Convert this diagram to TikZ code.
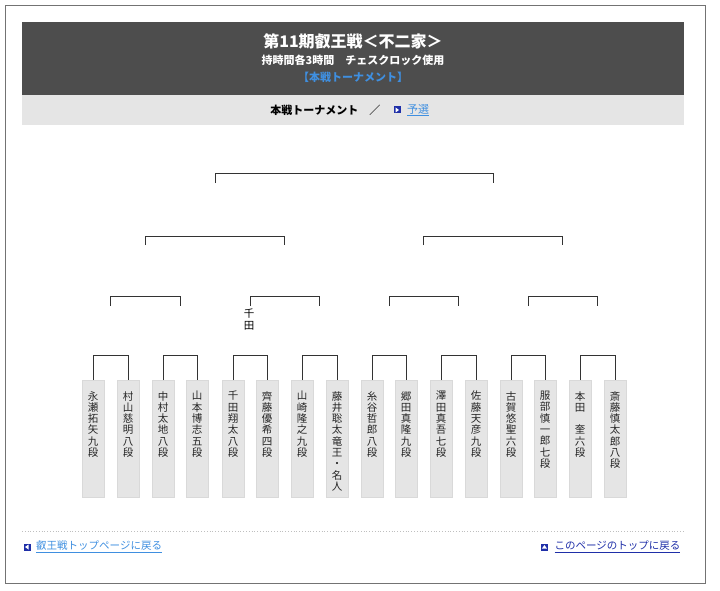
\documentclass[tikz,border=0pt]{standalone}
\usepackage{fontspec}
\setmainfont{Noto Sans CJK JP}
\usetikzlibrary{positioning,calc}
\definecolor{headgray}{HTML}{4D4D4D}
\definecolor{bargray}{HTML}{E5E5E5}
\definecolor{linkblue}{HTML}{3F8FE0}
\definecolor{iconblue}{HTML}{1F2FA8}
\begin{document}
\begin{tikzpicture}[
    x=1pt, y=-1pt,
    namebox/.style={draw=black!15, fill=black!10, minimum width=22pt, minimum height=117pt, anchor=north, inner sep=0pt},
    nametext/.style={anchor=north, font=\fontsize{10.5}{11.3}\selectfont, align=center, inner sep=0pt, text=black!85},
    bracket/.style={draw=black!80, line width=0.8pt},
    icon/.style={fill=iconblue, minimum size=7pt, inner sep=0pt}
]
\useasboundingbox (0,0) rectangle (720,591);
% Frame and header
\draw[black!55] (5,5) rectangle (705,583);
\fill[headgray] (22,22) rectangle (684,95);
\fill[bargray] (22,95) rectangle (684,125);
\node[text=white, font=\fontsize{16}{19}\selectfont\bfseries] (title) at (353,41) {第11期叡王戦＜不二家＞};
\node[text=white, font=\fontsize{11}{13}\selectfont\bfseries] (sub) at (353,60) {持時間各3時間\quad チェスクロック使用};
\node[text=linkblue, font=\fontsize{11}{13}\selectfont\bfseries] (main) at (353,77) {【本戦トーナメント】};
\node[font=\fontsize{11}{13}\selectfont\bfseries, anchor=east] (bar) at (384,110) {本戦トーナメント\quad ／};
\node[icon] (qicon) at (397,110) {};
\fill[white] (395.5,107.5) -- (399,110) -- (395.5,112.5) -- cycle;
\node[text=linkblue, font=\fontsize{11}{13}\selectfont, right=3pt of qicon] (qual) {\underline{予選}};

% Players
\foreach \i/\x/\name in {
    1/93/{永\\瀬\\拓\\矢\\九\\段},
    2/128/{村\\山\\慈\\明\\八\\段},
    3/163/{中\\村\\太\\地\\八\\段},
    4/197/{山\\本\\博\\志\\五\\段},
    5/233/{千\\田\\翔\\太\\八\\段},
    6/267/{齊\\藤\\優\\希\\四\\段},
    7/302/{山\\崎\\隆\\之\\九\\段},
    8/337/{藤\\井\\聡\\太\\竜\\王\\・\\名\\人},
    9/372/{糸\\谷\\哲\\郎\\八\\段},
    10/406/{郷\\田\\真\\隆\\九\\段},
    11/441/{澤\\田\\真\\吾\\七\\段},
    12/476/{佐\\藤\\天\\彦\\九\\段},
    13/511/{古\\賀\\悠\\聖\\六\\段},
    14/545/{服\\部\\慎\\一\\郎\\七\\段},
    15/580/{本\\田\\\\奎\\六\\段},
    16/615/{斎\\藤\\慎\\太\\郎\\八\\段}} {
    \node[namebox] (p\i) at (\x,380) {};
    \node[nametext] (t\i) at ([yshift=-11pt]p\i.north) {\name};
}

% Round 1
\foreach \a/\b/\k in {1/2/1, 3/4/2, 5/6/3, 7/8/4, 9/10/5, 11/12/6, 13/14/7, 15/16/8} {
    \draw[bracket] (p\a.north) -- ++(0,-25) -| (p\b.north);
    \coordinate (r1\k) at ($(p\a.north)!0.5!(p\b.north)+(0,-25)$);
}
% Round 2
\foreach \a/\b/\k in {1/2/1, 3/4/2, 5/6/3, 7/8/4} {
    \draw[bracket] ($(r1\a)+(0,-49)$) -- ++(0,-10) -| ($(r1\b)+(0,-49)$);
    \coordinate (r2\k) at ($(r1\a)!0.5!(r1\b)+(0,-59)$);
}
% Round 3
\foreach \a/\b/\k in {1/2/1, 3/4/2} {
    \draw[bracket] ($(r2\a)+(0,-51)$) -- ++(0,-9) -| ($(r2\b)+(0,-51)$);
    \coordinate (r3\k) at ($(r2\a)!0.5!(r2\b)+(0,-60)$);
}
% Final
\draw[bracket] ($(r31)+(0,-53)$) -- ++(0,-10) -| ($(r32)+(0,-53)$);

% Result note
\node[font=\fontsize{10.5}{12}\selectfont, align=center, inner sep=0pt] (note) at (249,320) {千\\田};

% Footer
\draw[black!25, dotted, line width=0.8pt] (22,531) -- (684,531);
\node[icon] (bicon) at (27,547) {};
\fill[white] (28.5,544.5) -- (25,547) -- (28.5,549.5) -- cycle;
\node[text=linkblue, font=\fontsize{10.5}{12}\selectfont, right=2pt of bicon] (back) {\underline{叡王戦トップページに戻る}};
\node[text=iconblue, font=\fontsize{10.5}{12}\selectfont, anchor=east] (top) at (684,547) {\underline{このページのトップに戻る}};
\node[icon, left=3pt of top] (ticon) {};
\fill[white] ([xshift=-2.5pt,yshift=-1.5pt]ticon.center) -- ([yshift=2pt]ticon.center) -- ([xshift=2.5pt,yshift=-1.5pt]ticon.center) -- cycle;
\end{tikzpicture}
\end{document}
